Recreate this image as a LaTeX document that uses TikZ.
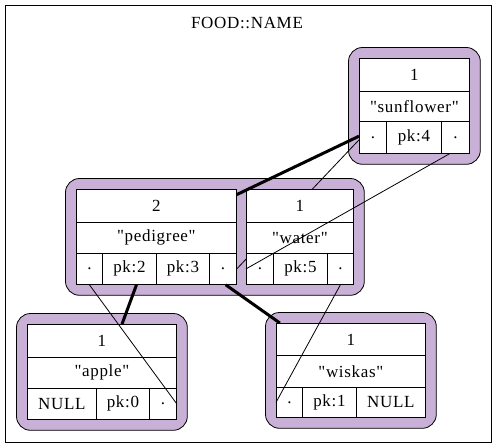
\documentclass[tikz,border=0pt]{standalone}
\usepackage{fontspec}
\setmainfont{Liberation Serif}[Ligatures=TeXOff, LetterSpace=4]
\usetikzlibrary{fit,backgrounds}
\definecolor{pagefill}{RGB}{200,176,214}

\begin{document}
\begin{tikzpicture}[x=1pt,y=-1pt,
    every node/.style={font=\fontsize{17}{20}\selectfont},
    cell/.style={draw, line width=0.8pt, fill=white, anchor=north west, inner sep=0pt},
    page/.style={draw, line width=0.8pt, fill=pagefill, rounded corners=14pt, inner sep=10.5pt},
    link/.style={line width=0.8pt},
    heavy link/.style={line width=3pt}]
\useasboundingbox (0,0) rectangle (496,447);
\draw[line width=0.8pt] (5,5) rectangle (491,442);
\node (title) at (247,23) {FOOD::NAME};
% cells: name/x/y/width/height/text
\foreach \name/\x/\y/\w/\h/\txt in {
    sun-n/359/58/110/33/1, sun-s/359/91/110/30/"sunflower",
    sun-l/359/121/27/32/., sun-k/386/121/55/32/pk:4, sun-r/441/121/28/32/.,
    ped-n/76/189/160/33/2, ped-s/76/222/160/31/"pedigree",
    ped-l/76/253/26/31/., ped-k2/102/253/54/31/pk:2, ped-k3/156/253/53/31/pk:3, ped-r/209/253/27/31/.,
    wat-n/246/189/107/33/1, wat-s/246/222/107/31/"water",
    wat-l/246/253/27/31/., wat-k/273/253/54/31/pk:5, wat-r/327/253/26/31/.,
    app-n/27/324/149/33/1, app-s/27/357/149/31/"apple",
    app-l/27/388/69/31/NULL, app-k/96/388/53/31/pk:0, app-r/149/388/27/31/.,
    wis-n/276/323/149/32/1, wis-s/276/355/149/32/"wiskas",
    wis-l/276/387/26/30/., wis-k/302/387/54/30/pk:1, wis-r/356/387/69/30/NULL}
  \node[cell, minimum width=\w pt, minimum height=\h pt] (\name) at (\x,\y) {\txt};
\begin{scope}[on background layer]
  \node[page, fit=(sun-n)(sun-r)] (sun) {};
  \node[page, fit=(ped-n)(wat-r)] (ped) {};
  \node[page, fit=(app-n)(app-r)] (app) {};
  \node[page, fit=(wis-n)(wis-r)] (wis) {};
  \draw[link] (sun-l.190) -- (ped-r.east);
\end{scope}
\draw[heavy link] (sun-l.175) -- (ped-n.8);
\draw[link] (sun-r.250) -- (wat-l.west);
\draw[heavy link] (ped-k2.294) -- (app-n.40);
\draw[link] (ped-l.south) -- (app-r.east);
\draw[heavy link] (ped-r.280) -- (wis-n.167);
\draw[link] (wat-r.south) -- (wis-l.west);
\end{tikzpicture}
\end{document}
